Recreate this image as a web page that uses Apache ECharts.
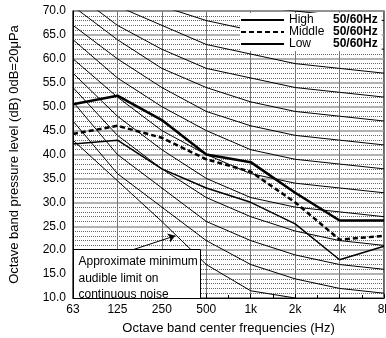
<!DOCTYPE html>
<html>
<head>
<meta charset="utf-8">
<script src="https://cdn.jsdelivr.net/npm/echarts@6/dist/echarts.min.js"></script>
<style>
  html, body { margin: 0; padding: 0; background: #fff; }
  #main { width: 386px; height: 338px; }
</style>
</head>
<body>
<div id="main"></div>
<script>
var freqs = ['63', '125', '250', '500', '1k', '2k', '4k', '8k'];

// NC curves (dB)
var nc15 = [47, 36, 29, 22, 17, 14, 12, 11];
var nc20 = [51, 40, 33, 26, 22, 19, 17, 16];
var nc25 = [54, 44, 37, 31, 27, 24, 22, 21];
var nc30 = [57, 48, 41, 35, 31, 29, 28, 27];
var nc35 = [60, 52, 45, 40, 36, 34, 33, 32];
var nc40 = [64, 56, 50, 45, 41, 39, 38, 37];
var nc45 = [67, 60, 54, 49, 46, 44, 43, 42];
var nc50 = [71, 64, 58, 54, 51, 49, 48, 47];
var nc55 = [74, 67, 62, 58, 56, 54, 53, 52];
var nc60 = [77, 71, 67, 63, 61, 59, 58, 57];
var nc65 = [80, 75, 71, 68, 66, 64, 63, 62];
var nc70 = [83, 79, 75, 72, 71, 70, 69, 68];

// approximate minimum audible limit
var audible = [43, 34.5, 26, 17, 11.5, 10, null, null];

// measured
var high = [50.5, 52.3, 47.2, 40, 38.4, 32, 26.2, 26.2];
var middle = [44.3, 46, 43.5, 39, 36.4, 30, 22.2, 23];
var low = [42.2, 43, 37, 33, 30, 25.5, 18, 20.8];

var font = 'Liberation Sans';
var ncList = [nc15, nc20, nc25, nc30, nc35, nc40, nc45, nc50, nc55, nc60, nc65, nc70];

function pts(arr) {
  return arr.map(function (v, i) { return [i, v]; });
}

var series = [];
ncList.forEach(function (arr) {
  series.push({
    type: 'line', data: pts(arr), symbol: 'none', silent: true,
    lineStyle: { color: '#000', width: 1 }, z: 3
  });
});
series.push({
  type: 'line', data: pts(audible), symbol: 'none', silent: true,
  lineStyle: { color: '#000', width: 1 }, z: 3,
  markLine: {
    silent: true, symbol: ['none', 'arrow'], symbolSize: 7,
    label: { show: false },
    lineStyle: { color: '#000', width: 1, type: 'solid' },
    data: [[{ coord: [1.35, 20.1] }, { coord: [2.3, 23] }]]
  }
});
series.push({
  name: 'High', type: 'line', data: pts(high), symbol: 'none',
  itemStyle: { color: '#000' },
  lineStyle: { color: '#000', width: 2.5 }, z: 5
});
series.push({
  name: 'Middle', type: 'line', data: pts(middle), symbol: 'none',
  itemStyle: { color: '#000' },
  lineStyle: { color: '#000', width: 2.5, type: [5, 3] }, z: 5
});
series.push({
  name: 'Low', type: 'line', data: pts(low), symbol: 'none',
  itemStyle: { color: '#000' },
  lineStyle: { color: '#000', width: 1.5 }, z: 5
});

var myChart = echarts.init(document.getElementById('main'));
var option = {
  animation: false,
  textStyle: { fontFamily: font },
  grid: {
    left: 73, right: 2, top: 11, bottom: 40, show: true,
    borderColor: '#000', borderWidth: 1.2, outerBoundsMode: 'none'
  },
  legend: {
    data: ['High', 'Middle', 'Low'],
    orient: 'vertical', left: 240, top: 13,
    itemWidth: 43, itemHeight: 11, itemGap: 0,
    padding: [1, 4, 1, 0],
    backgroundColor: '#fff',
    itemStyle: { opacity: 0 },
    formatter: function (name) { return '{n|' + name + '}{h|50/60Hz}'; },
    textStyle: {
      fontFamily: font, fontSize: 12, color: '#000', lineHeight: 11,
      rich: {
        n: { width: 44, fontSize: 12, fontFamily: font, color: '#000', lineHeight: 11 },
        h: { fontSize: 12, fontWeight: 'bold', fontFamily: font, color: '#000', lineHeight: 11 }
      }
    },
    z: 20
  },
  xAxis: {
    type: 'value', min: 0, max: 7, interval: 1,
    name: 'Octave band center frequencies (Hz)',
    nameLocation: 'middle', nameGap: 24,
    nameTextStyle: { fontSize: 13, color: '#000', fontFamily: font },
    axisLine: { lineStyle: { color: '#000' } },
    axisTick: { inside: true, length: 4, lineStyle: { color: '#000' } },
    minorTick: { show: true, splitNumber: 2, length: 3, lineStyle: { color: '#000' } },
    axisLabel: {
      fontSize: 12, color: '#000', margin: 6, fontFamily: font,
      hideOverlap: false,
      formatter: function (v) { return freqs[v]; }
    },
    splitLine: { show: true, lineStyle: { color: '#777', width: 1 } }
  },
  yAxis: {
    type: 'value', min: 10, max: 70, interval: 5,
    name: 'Octave band pressure level (dB) 0dB=20\u03bcPa',
    nameLocation: 'middle', nameGap: 52,
    nameTextStyle: { fontSize: 13, color: '#000', fontFamily: font },
    axisLine: { show: true, lineStyle: { color: '#000' } },
    axisTick: { show: false },
    axisLabel: {
      fontSize: 12, color: '#000', margin: 7, fontFamily: font,
      formatter: function (v) { return v.toFixed(1); }
    },
    splitLine: { show: true, lineStyle: { color: '#999', width: 1.5 } },
    minorSplitLine: { show: true, lineStyle: { color: '#666', width: 1, type: [1, 1] } },
    minorTick: { show: false, splitNumber: 5 }
  },
  graphic: [{
    type: 'group', left: 73, top: 249, z: 100,
    children: [
      { type: 'rect', z: 100, shape: { x: 0, y: 0, width: 127, height: 49 },
        style: { fill: '#fff', stroke: '#000', lineWidth: 1 } },
      { type: 'text', z: 101, x: 5, y: 4,
        style: { text: 'Approximate minimum\naudible limit on\ncontinuous noise',
          font: '12px "Liberation Sans"', lineHeight: 16.5, fill: '#000' } }
    ]
  }],
  series: series
};
myChart.setOption(option);
</script>
</body>
</html>
